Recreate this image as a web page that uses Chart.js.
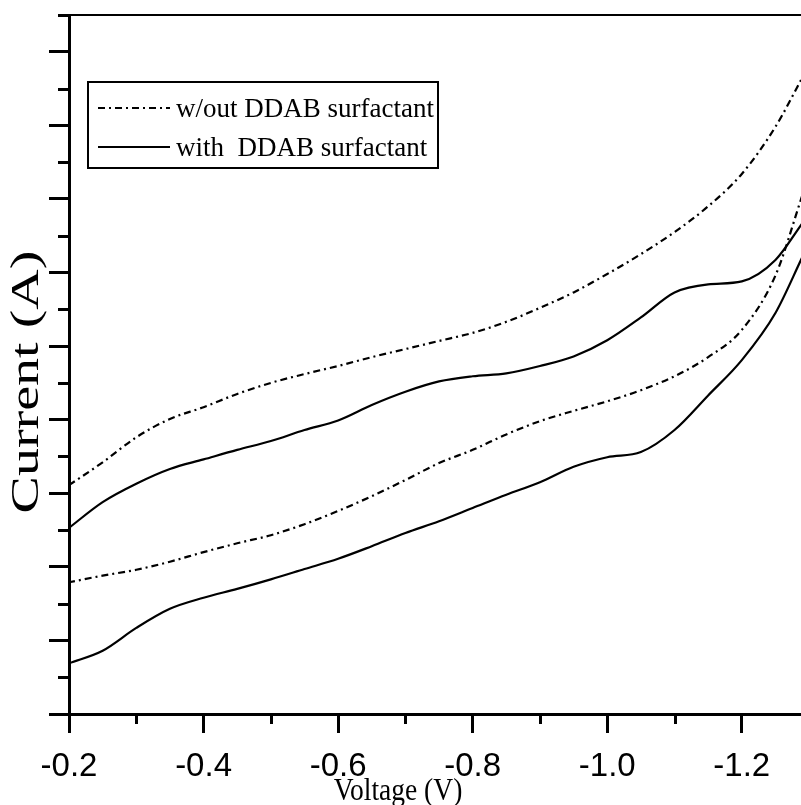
<!DOCTYPE html>
<html>
<head>
<meta charset="utf-8">
<title>Cyclic voltammogram</title>
<script src="https://cdn.jsdelivr.net/npm/chart.js@4.4.1/dist/chart.umd.min.js"></script>
<style>
  html, body { margin: 0; padding: 0; background: #fff; }
  canvas { display: block; }
</style>
</head>
<body>
<canvas id="cvChart" width="801" height="805"></canvas>
<script>
// Sweep potentials (V) shared by every branch
const voltage = [-0.2, -0.25, -0.3, -0.35, -0.4, -0.45, -0.5, -0.55, -0.6, -0.65, -0.7, -0.75,
                 -0.8, -0.85, -0.9, -0.95, -1.0, -1.05, -1.1, -1.15, -1.2, -1.25, -1.29];

// Current, arbitrary units (axis carries no numbers)
const withoutForward = [3.11, 3.42, 3.76, 4.01, 4.17, 4.35, 4.50, 4.62, 4.73, 4.85, 4.96, 5.07,
                        5.18, 5.33, 5.52, 5.73, 5.98, 6.25, 6.55, 6.90, 7.34, 7.98, 8.65];
const withoutReverse = [1.79, 1.88, 1.96, 2.07, 2.20, 2.32, 2.43, 2.58, 2.76, 2.96, 3.18, 3.41,
                        3.59, 3.80, 3.98, 4.12, 4.25, 4.40, 4.59, 4.85, 5.22, 5.96, 7.05];
const withForward    = [2.53, 2.88, 3.13, 3.33, 3.46, 3.59, 3.71, 3.86, 3.99, 4.20, 4.38, 4.52,
                        4.59, 4.63, 4.73, 4.86, 5.08, 5.39, 5.73, 5.84, 5.88, 6.17, 6.67];
const withReverse    = [0.69, 0.86, 1.17, 1.43, 1.58, 1.70, 1.83, 1.97, 2.11, 2.28, 2.46, 2.62,
                        2.80, 2.98, 3.15, 3.36, 3.49, 3.56, 3.86, 4.33, 4.81, 5.45, 6.21];

const seriesLabels = ['w/out DDAB surfactant', 'with  DDAB surfactant'];

const voltageTicks = [-0.2, -0.4, -0.6, -0.8, -1.0, -1.2];
const voltageMinorTicks = [-0.3, -0.5, -0.7, -0.9, -1.1];
const currentTicks = [0, 1, 2, 3, 4, 5, 6, 7, 8, 9];
const currentMinorTicks = [0.5, 1.5, 2.5, 3.5, 4.5, 5.5, 6.5, 7.5, 8.5, 9.5];

const xTitle = 'Voltage (V)';
const yTitle = 'Current (A)';

const SERIF = '"Liberation Serif", "Times New Roman", serif';
const SANS = '"Liberation Sans", Arial, sans-serif';
const X_MIN = -1.288, X_MAX = -0.2;

function branch(values) {
    return voltage.map((v, i) => ({ x: v, y: values[i] }));
}

// forward sweep out, a break at the turn, reverse sweep back
function loop(forward, reverse) {
    const turn = voltage[voltage.length - 1];
    return branch(forward).concat([{ x: turn, y: null }], branch(reverse).reverse());
}

// minor ticks, the boxed legend and the two axis titles
const plotDecor = {
    id: 'plotDecor',
    afterDraw(chart) {
        const { ctx, chartArea } = chart;
        const xs = chart.scales.x, ys = chart.scales.y;
        ctx.save();
        ctx.strokeStyle = '#000';
        ctx.fillStyle = '#000';
        ctx.lineCap = 'butt';

        ctx.lineWidth = 3;
        ctx.beginPath();
        voltageMinorTicks.forEach(v => {
            const px = Math.round(xs.getPixelForValue(v)) + 0.5;
            ctx.moveTo(px, chartArea.bottom);
            ctx.lineTo(px, chartArea.bottom + 10);
        });
        currentMinorTicks.forEach(v => {
            const py = Math.round(ys.getPixelForValue(v)) + 0.5;
            ctx.moveTo(chartArea.left, py);
            ctx.lineTo(chartArea.left - 11, py);
        });
        ctx.stroke();

        // legend
        const lx = chartArea.left + 19, ly = chartArea.top + 67;
        ctx.lineWidth = 2;
        ctx.strokeRect(lx, ly, 350, 86);
        ctx.font = '27px ' + SERIF;
        ctx.textAlign = 'left';
        ctx.textBaseline = 'alphabetic';
        chart.data.datasets.forEach((ds, i) => {
            const rowY = ly + 26 + i * 39;
            ctx.setLineDash(ds.borderDash || []);
            ctx.beginPath();
            ctx.moveTo(lx + 10, rowY);
            ctx.lineTo(lx + 82, rowY);
            ctx.stroke();
            ctx.setLineDash([]);
            ctx.fillText(ds.label, lx + 88, rowY + 9);
        });

        // y title, stretched along its length
        ctx.save();
        ctx.translate(chartArea.left - 42, chartArea.top + 367);
        ctx.rotate(-Math.PI / 2);
        ctx.scale(1.4, 1);
        ctx.font = '40px ' + SERIF;
        ctx.textAlign = 'center';
        ctx.textBaseline = 'middle';
        ctx.fillText(yTitle, 0, 0);
        ctx.restore();

        // x title, a little condensed
        ctx.save();
        ctx.translate(chartArea.left + 329, chartArea.bottom + 86);
        ctx.scale(0.86, 1);
        ctx.font = '32px ' + SERIF;
        ctx.textAlign = 'center';
        ctx.textBaseline = 'alphabetic';
        ctx.fillText(xTitle, 0, 0);
        ctx.restore();

        ctx.restore();
    }
};

new Chart(document.getElementById('cvChart'), {
    type: 'line',
    data: {
        datasets: [{
            label: seriesLabels[0],
            data: loop(withoutForward, withoutReverse),
            borderColor: '#000',
            borderWidth: 2.2,
            borderDash: [7, 4, 2, 4],
            pointRadius: 0,
            cubicInterpolationMode: 'monotone'
        }, {
            label: seriesLabels[1],
            data: loop(withForward, withReverse),
            borderColor: '#000',
            borderWidth: 2.2,
            pointRadius: 0,
            cubicInterpolationMode: 'monotone'
        }]
    },
    options: {
        responsive: false,
        animation: false,
        layout: { padding: { top: 15, right: 0, bottom: 0, left: 0 } },
        plugins: {
            legend: { display: false },
            tooltip: { enabled: false }
        },
        scales: {
            x: {
                type: 'linear',
                reverse: true,
                min: X_MIN,
                max: X_MAX,
                afterBuildTicks: s => { s.ticks = voltageTicks.map(v => ({ value: v })); },
                afterFit: s => { s.height = 91; },
                ticks: {
                    color: '#000',
                    font: { family: SANS, size: 33, lineHeight: 1 },
                    padding: 17,
                    maxRotation: 0,
                    autoSkip: false,
                    callback: v => v.toFixed(1)
                },
                grid: { drawOnChartArea: false, tickLength: 19, tickWidth: 3, tickColor: '#000' },
                border: { color: '#000', width: 3 }
            },
            xTop: {
                type: 'linear',
                position: 'top',
                min: X_MIN,
                max: X_MAX,
                afterFit: s => { s.height = 0; },
                ticks: { display: false },
                grid: { display: false, drawTicks: false },
                border: { color: '#000', width: 2 }
            },
            y: {
                min: 0,
                max: 9.5,
                afterBuildTicks: s => { s.ticks = currentTicks.map(v => ({ value: v })); },
                afterFit: s => { s.width = 69; },
                ticks: { display: false },
                grid: { drawOnChartArea: false, tickLength: 20, tickWidth: 3, tickColor: '#000' },
                border: { color: '#000', width: 3 }
            }
        }
    },
    plugins: [plotDecor]
});
</script>
</body>
</html>
